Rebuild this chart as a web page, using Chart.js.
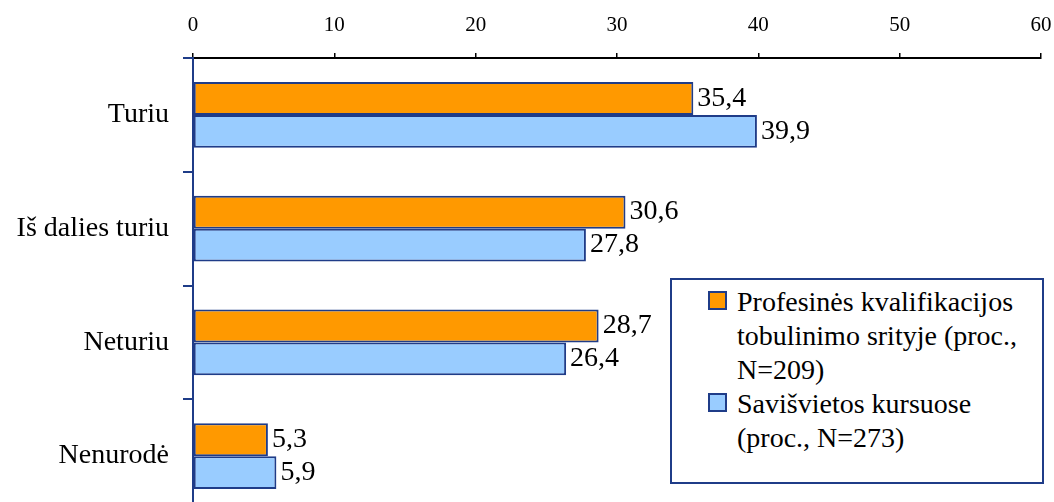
<!DOCTYPE html>
<html>
<head>
<meta charset="UTF-8">
<script src="https://cdn.jsdelivr.net/npm/chart.js"></script>
<style>
    html, body { margin: 0; padding: 0; background: #fff; overflow: hidden; }
    #wrap { position: relative; width: 1054px; height: 513px; }
    #chart { display: block; }
    #legend {
        position: absolute; left: 670px; top: 278px; width: 370px; height: 197px;
        border: 2px solid #1F3C88; background: #fff;
        font-family: 'Liberation Serif', serif;
        font-size: 28px; color: #000;
        padding-top: 5px; box-sizing: content-box;
    }
    .item { position: relative; padding-left: 65px; line-height: 34px; white-space: nowrap; }
    .swatch { position: absolute; left: 36px; top: 6px; width: 15px; height: 15px; border: 2px solid #1F3C88; }
</style>
</head>
<body>
<div id="wrap">
    <canvas id="chart" width="1054" height="513"></canvas>
    <div id="legend"></div>
</div>
<script>
const categories = ['Turiu', 'Iš dalies turiu', 'Neturiu', 'Nenurodė'];
const profesinesValues = [35.4, 30.6, 28.7, 5.3];
const saviValues = [39.9, 27.8, 26.4, 5.9];
const seriesNames = [
    ['Profesinės kvalifikacijos', 'tobulinimo srityje (proc.,', 'N=209)'],
    ['Savišvietos kursuose', '(proc., N=273)']
];
const xTicks = [0, 10, 20, 30, 40, 50, 60];

const navy = '#1F3C88';
const colors = ['#FF9900', '#99CCFF'];
const serif = "'Liberation Serif', serif";

// value labels to the right of each bar
const valueLabels = {
    id: 'valueLabels',
    afterDatasetsDraw(chart) {
        const ctx = chart.ctx;
        ctx.save();
        ctx.font = '28px ' + serif;
        ctx.fillStyle = '#000';
        ctx.textAlign = 'left';
        ctx.textBaseline = 'middle';
        chart.data.datasets.forEach((ds, i) => {
            chart.getDatasetMeta(i).data.forEach((bar, j) => {
                const txt = ds.data[j].toFixed(1).replace('.', ',');
                ctx.fillText(txt, bar.x + 4, bar.y);
            });
        });
        ctx.restore();
    }
};

new Chart(document.getElementById('chart'), {
    type: 'bar',
    data: {
        labels: categories,
        datasets: [profesinesValues, saviValues].map((vals, i) => ({
            label: seriesNames[i].join(' '),
            data: vals,
            backgroundColor: colors[i],
            borderColor: navy,
            borderWidth: 2,
            borderSkipped: false,
            barPercentage: 1.0,
            categoryPercentage: 0.58
        }))
    },
    options: {
        indexAxis: 'y',
        responsive: false,
        animation: false,
        layout: { padding: { top: 0, right: 13, bottom: 0, left: 0 } },
        plugins: { legend: { display: false }, tooltip: { enabled: false } },
        scales: {
            x: {
                position: 'top',
                min: 0,
                max: 60,
                afterBuildTicks: (scale) => { scale.ticks = xTicks.map(v => ({ value: v })); },
                afterFit: (scale) => { scale.height = 58; scale.paddingRight = 0; scale.paddingLeft = 0; },
                ticks: { font: { family: serif, size: 21 }, color: '#000', padding: 15 },
                grid: { drawOnChartArea: false, drawTicks: true, tickLength: 5, color: '#000', lineWidth: 1.5 },
                border: { color: '#000', width: 2 }
            },
            y: {
                afterFit: (scale) => { scale.width = 193; scale.paddingTop = 0; scale.paddingBottom = 0; },
                ticks: { font: { family: serif, size: 28 }, color: '#000', padding: 14 },
                grid: { offset: true, drawOnChartArea: false, drawTicks: true, tickLength: 10, color: navy, lineWidth: 2 },
                border: { color: navy, width: 2 }
            }
        }
    },
    plugins: [valueLabels]
});

// legend built from the series names
const legend = document.getElementById('legend');
seriesNames.forEach((lines, i) => {
    const item = document.createElement('div');
    item.className = 'item';
    const sw = document.createElement('span');
    sw.className = 'swatch';
    sw.style.background = colors[i];
    item.appendChild(sw);
    lines.forEach(line => {
        const d = document.createElement('div');
        d.textContent = line;
        item.appendChild(d);
    });
    legend.appendChild(item);
});
</script>
</body>
</html>
